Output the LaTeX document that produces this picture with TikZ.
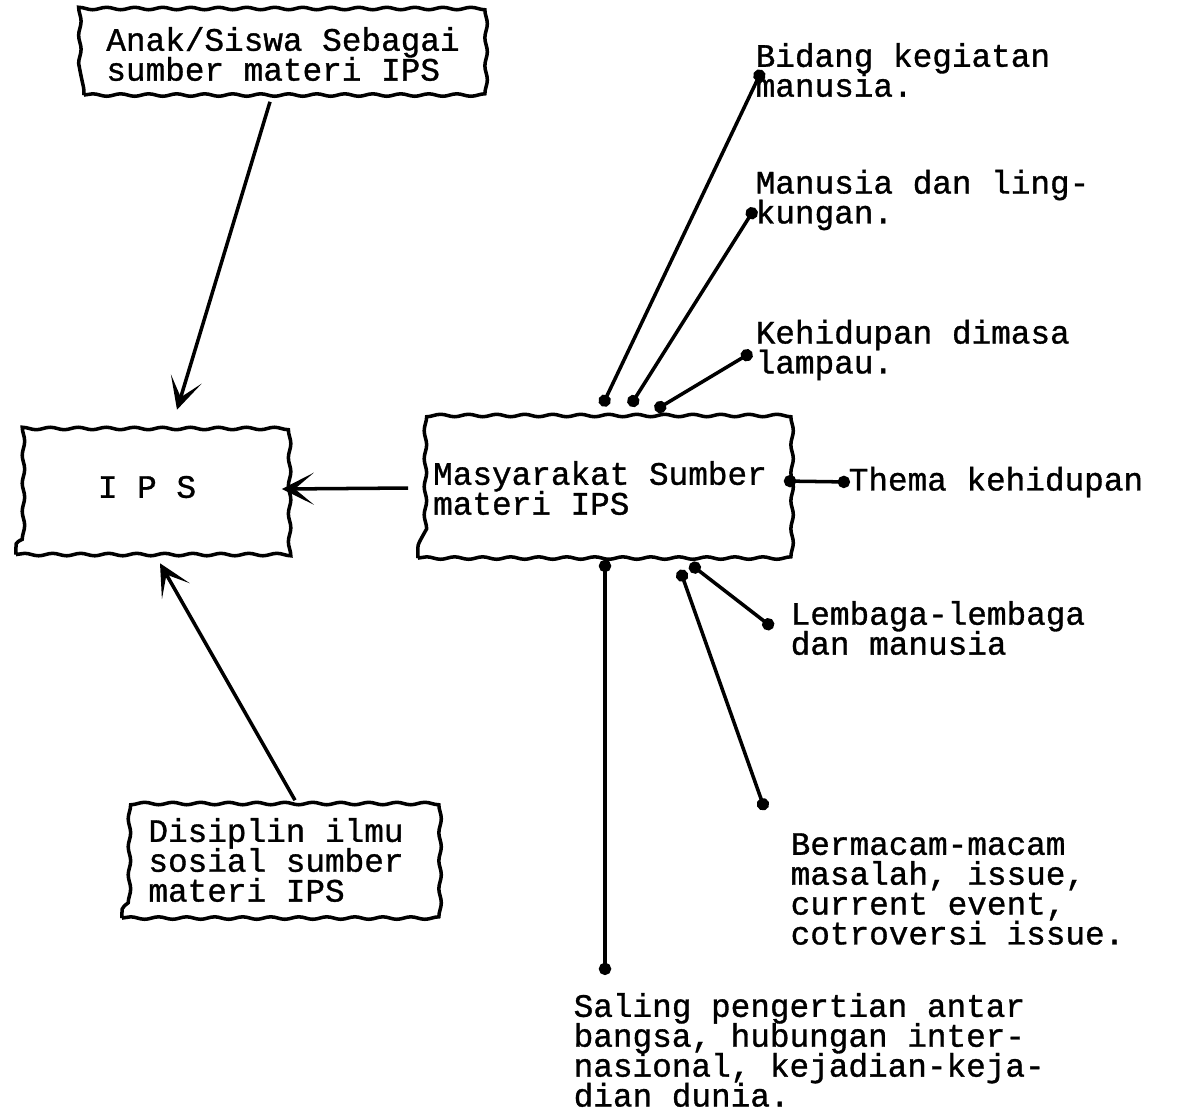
\documentclass[tikz,border=0pt]{standalone}
\usepackage{fontspec}
\newfontfamily\typer[FakeBold=1]{Liberation Mono}
\newcommand{\typetext}{\typer\fontsize{9.3}{8.5}\selectfont\lineskiplimit=-8pt\relax}
\usetikzlibrary{arrows.meta,positioning,calc,decorations.pathmorphing}

\begin{document}
\begin{tikzpicture}[
    x=0.01cm, y=-0.01cm,
    box/.style={draw, line width=1pt, decorate, decoration={snake, segment length=2.8mm, amplitude=0.35pt}, align=left, font=\typetext, inner sep=2pt},
    note/.style={anchor=west, inner sep=0pt, align=left, font=\typetext},
    arr/.style={-{Stealth[length=3.2mm, width=3.2mm, inset=1.9mm]}, line width=1pt},
    lead/.style={{Circle[length=3.5pt]}-{Circle[length=3.5pt]}, line width=1pt},
]
    \useasboundingbox (0,0) rectangle (1179,1117);

    % Sumber materi
    \node[box, minimum width=3.98cm, minimum height=0.82cm] (anak) at (283,54) {Anak/Siswa Sebagai\\sumber materi IPS};
    \node[box, minimum width=2.62cm, minimum height=1.35cm] (ips) at (147,487) {I P S};
    \node[box, minimum width=3.64cm, minimum height=1.40cm] (masy) at (600,488) {Masyarakat Sumber\\materi IPS};
    \node[box, minimum width=3.08cm, minimum height=1.16cm] (disiplin) at (276,860) {Disiplin ilmu\\sosial sumber\\materi IPS};

    % Keterangan
    \node[note] (bidang) at (755,70) {Bidang kegiatan\\manusia.};
    \node[note] (lingk) at (755,200) {Manusia dan ling-\\kungan.};
    \node[note] (lampau) at (755,350) {Kehidupan dimasa\\lampau.};
    \node[note] (thema) at (848,482) {Thema kehidupan};
    \node[note] (lembaga) at (790,628) {Lembaga-lembaga\\dan manusia};
    \node[note] (masalah) at (790,889) {Bermacam-macam\\masalah, issue,\\current event,\\cotroversi issue.};
    \node[note] (saling) at (573,1050) {Saling pengertian antar\\bangsa, hubungan inter-\\nasional, kejadian-keja-\\dian dunia.};
    \coordinate (saltop) at (605,975);

    % Panah
    \draw[arr] ([shift={(-13,5)}]anak.south) -- ([shift={(30,-8)}]ips.north);
    \draw[arr] ([shift={(19,0)}]disiplin.north) -- ([shift={(13,7)}]ips.south);
    \draw[arr] ([shift={(-8,0)}]masy.west) -- ([shift={(2,2)}]ips.east);

    % Garis
    \draw[lead] ([shift={(7,0)}]bidang.west) -- ([shift={(2,-10)}]masy.north);
    \draw[lead] ([shift={(0,8)}]lingk.west) -- ([shift={(30,-10)}]masy.north);
    \draw[lead] ([shift={(-3,2)}]lampau.west) -- ([shift={(55,-6)}]masy.north);
    \draw[lead] ([shift={(0,-7)}]masy.east) -- ([shift={(2,0)}]thema.west);
    \draw[lead] ([shift={(-17,0)}]lembaga.west) -- ([shift={(90,4)}]masy.south);
    \draw[lead] ([shift={(-25,-79)}]masalah.west) -- ([shift={(80,10)}]masy.south);
    \draw[lead] ([shift={(5,0)}]masy.south) -- (saltop);
\end{tikzpicture}
\end{document}
